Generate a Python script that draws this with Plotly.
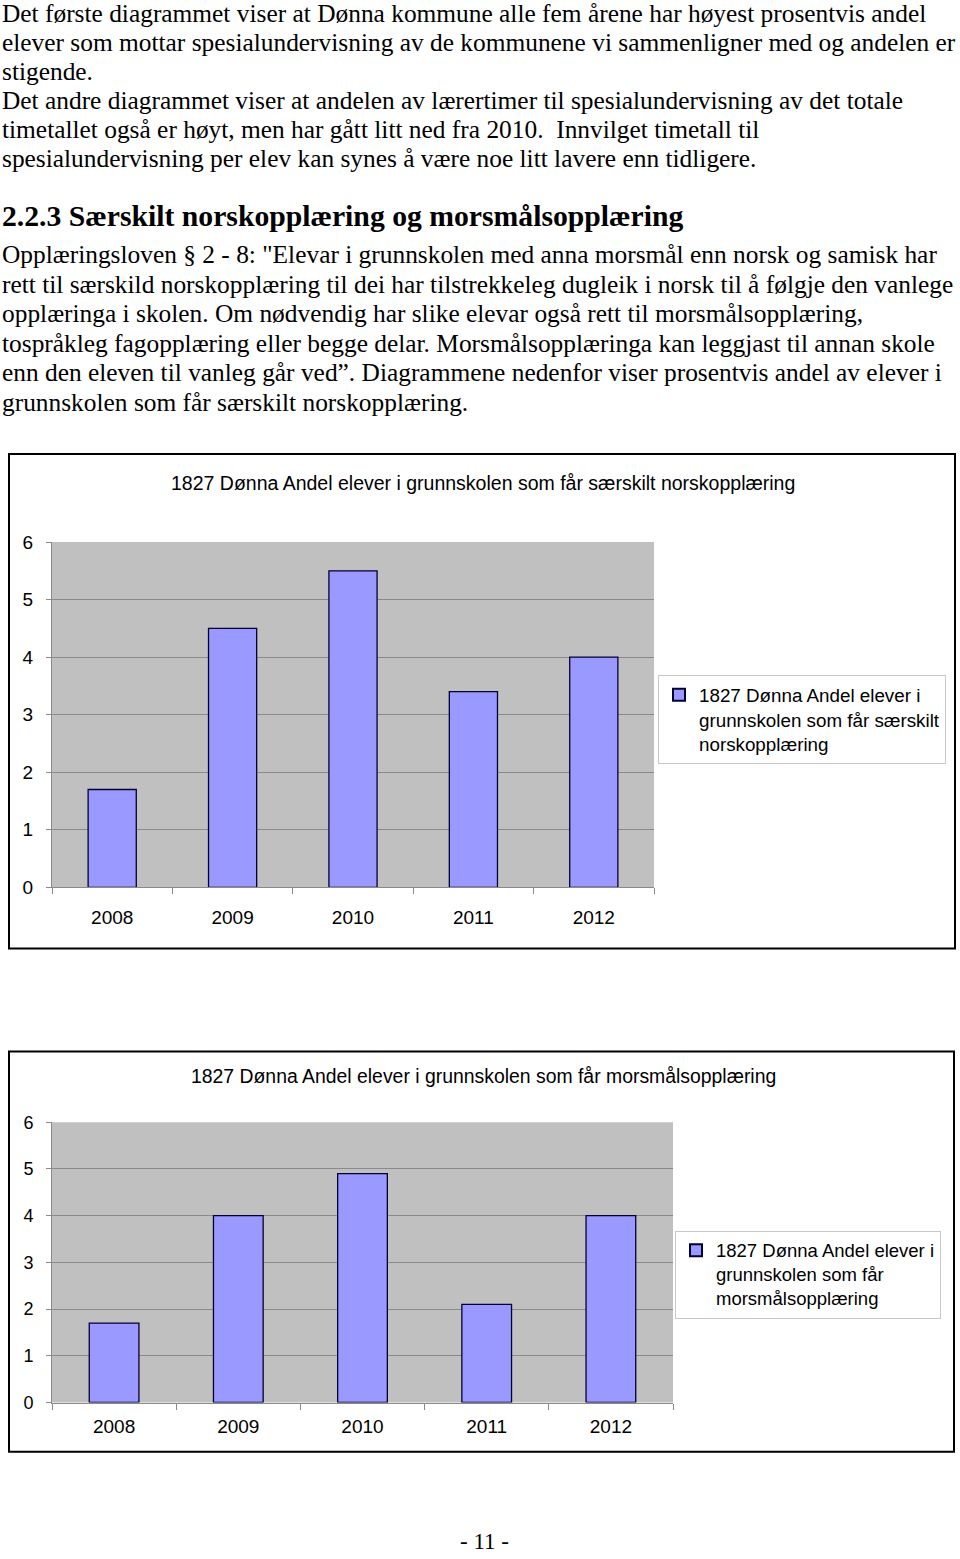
import plotly.graph_objects as go

W, H = 960, 1559

years = ["2008", "2009", "2010", "2011", "2012"]
norsk_values = [1.7, 4.5, 5.5, 3.4, 4.0]
morsmal_values = [1.7, 4.0, 4.9, 2.1, 4.0]
y_ticks = [0, 1, 2, 3, 4, 5, 6]

title1 = "1827 Dønna Andel elever i grunnskolen som får særskilt norskopplæring"
title2 = "1827 Dønna Andel elever i grunnskolen som får morsmålsopplæring"
legend1 = "1827 Dønna Andel elever i<br>grunnskolen som får særskilt<br>norskopplæring"
legend2 = "1827 Dønna Andel elever i<br>grunnskolen som får<br>morsmålsopplæring"

intro_lines = [
    "Det første diagrammet viser at Dønna kommune alle fem årene har høyest prosentvis andel",
    "elever som mottar spesialundervisning av de kommunene vi sammenligner med og andelen er",
    "stigende.",
    "Det andre diagrammet viser at andelen av lærertimer til spesialundervisning av det totale",
    "timetallet også er høyt, men har gått litt ned fra 2010.  Innvilget timetall til",
    "spesialundervisning per elev kan synes å være noe litt lavere enn tidligere.",
]
heading = "2.2.3 Særskilt norskopplæring og morsmålsopplæring"
para_lines = [
    "Opplæringsloven § 2 - 8: \"Elevar i grunnskolen med anna morsmål enn norsk og samisk har",
    "rett til særskild norskopplæring til dei har tilstrekkeleg dugleik i norsk til å følgje den vanlege",
    "opplæringa i skolen. Om nødvendig har slike elevar også rett til morsmålsopplæring,",
    "tospråkleg fagopplæring eller begge delar. Morsmålsopplæringa kan leggjast til annan skole",
    "enn den eleven til vanleg går ved”. Diagrammene nedenfor viser prosentvis andel av elever i",
    "grunnskolen som får særskilt norskopplæring.",
]
page_no = "- 11 -"


def px(x):
    return x / W


def py(y):
    # map a target screen row to paper coordinates (compensating observed vertical fit)
    yy = (y - 10.5) / 0.9856
    return 1 - yy / H


BAR_FILL = "#9999FF"
BAR_LINE = "#000033"
GRID = "#8a8a8a"

fig = go.Figure()
fig.add_trace(go.Bar(x=years, y=norsk_values, name=legend1, width=0.4,
                     marker=dict(color=BAR_FILL, line=dict(color=BAR_LINE, width=1.3)),
                     xaxis="x", yaxis="y", legend="legend"))
fig.add_trace(go.Bar(x=years, y=morsmal_values, name=legend2, width=0.4,
                     marker=dict(color=BAR_FILL, line=dict(color=BAR_LINE, width=1.3)),
                     xaxis="x2", yaxis="y2", legend="legend2"))

sans = "Liberation Sans, Arial, sans-serif"
serif = "Liberation Serif, Times New Roman, serif"


def yaxis_cfg(domain, size):
    return dict(domain=domain, range=[0, 6], tickvals=y_ticks, showgrid=True,
                gridcolor=GRID, gridwidth=1, showline=True, linecolor=GRID,
                ticks="outside", ticklen=5, tickcolor=GRID, zeroline=False,
                tickfont=dict(family=sans, size=size, color="#000"),
                ticklabelstandoff=9, fixedrange=True)


def xaxis_cfg(domain, size, anchor, standoff):
    return dict(domain=domain, anchor=anchor, type="category", showline=True,
                linecolor=GRID, ticks="outside", tickson="boundaries", ticklen=6,
                tickcolor=GRID, showgrid=False,
                tickfont=dict(family=sans, size=size, color="#000"),
                ticklabelstandoff=standoff, fixedrange=True)


annotations = []
for i, t in enumerate(intro_lines):
    annotations.append(dict(text=t, x=0, y=py(13 + 29.1 * i), xref="paper", yref="paper",
                            xanchor="left", yanchor="middle", showarrow=False,
                            font=dict(family=serif, size=25.4, color="#000")))
annotations.append(dict(text="<b>" + heading + "</b>", x=0, y=py(216), xref="paper", yref="paper",
                        xanchor="left", yanchor="middle", showarrow=False,
                        font=dict(family=serif, size=29.7, color="#000")))
for i, t in enumerate(para_lines):
    annotations.append(dict(text=t, x=0, y=py(254.5 + 29.5 * i), xref="paper", yref="paper",
                            xanchor="left", yanchor="middle", showarrow=False,
                            font=dict(family=serif, size=25.4, color="#000")))
annotations.append(dict(text=page_no, x=px(484), y=py(1541), xref="paper", yref="paper",
                        xanchor="center", yanchor="middle", showarrow=False, borderpad=0,
                        font=dict(family=serif, size=23, color="#000")))
annotations.append(dict(text=title1, x=px(483), y=py(483), xref="paper", yref="paper",
                        xanchor="center", yanchor="middle", showarrow=False,
                        font=dict(family=sans, size=19.5, color="#000")))
annotations.append(dict(text=title2, x=px(483), y=py(1075), xref="paper", yref="paper",
                        xanchor="center", yanchor="middle", showarrow=False,
                        font=dict(family=sans, size=19.4, color="#000")))

shapes = [
    dict(type="rect", xref="paper", yref="paper", x0=px(9), x1=px(955), y0=py(948), y1=py(454),
         line=dict(color="#000", width=2), fillcolor="rgba(0,0,0,0)", layer="below"),
    dict(type="rect", xref="paper", yref="paper", x0=px(9), x1=px(954), y0=py(1451), y1=py(1051),
         line=dict(color="#000", width=2), fillcolor="rgba(0,0,0,0)", layer="below"),
]

fig.update_layout(
    width=W, height=H, margin=dict(l=0, r=0, t=0, b=0),
    paper_bgcolor="white", plot_bgcolor="#c0c0c0",
    xaxis=xaxis_cfg([px(52), px(654)], 19, "y", 13),
    yaxis=yaxis_cfg([py(887), py(542)], 19),
    xaxis2=xaxis_cfg([px(52), px(673)], 19, "y2", 7),
    yaxis2=yaxis_cfg([py(1401.7), py(1121.7)], 18),
    bargap=0.6,
    legend=dict(x=px(658), y=py(675), xanchor="left", yanchor="top", valign="top",
                bordercolor="#c8c8c8", borderwidth=1, bgcolor="white",
                font=dict(family=sans, size=18.8, color="#000"), itemsizing="constant",
                tracegroupgap=0),
    legend2=dict(x=px(675), y=py(1230), xanchor="left", yanchor="top", valign="top",
                 bordercolor="#c8c8c8", borderwidth=1, bgcolor="white",
                 font=dict(family=sans, size=18.5, color="#000"), itemsizing="constant"),
    showlegend=True,
    annotations=annotations,
    shapes=shapes,
)

fig.write_html("out.html", config={"displayModeBar": False})
